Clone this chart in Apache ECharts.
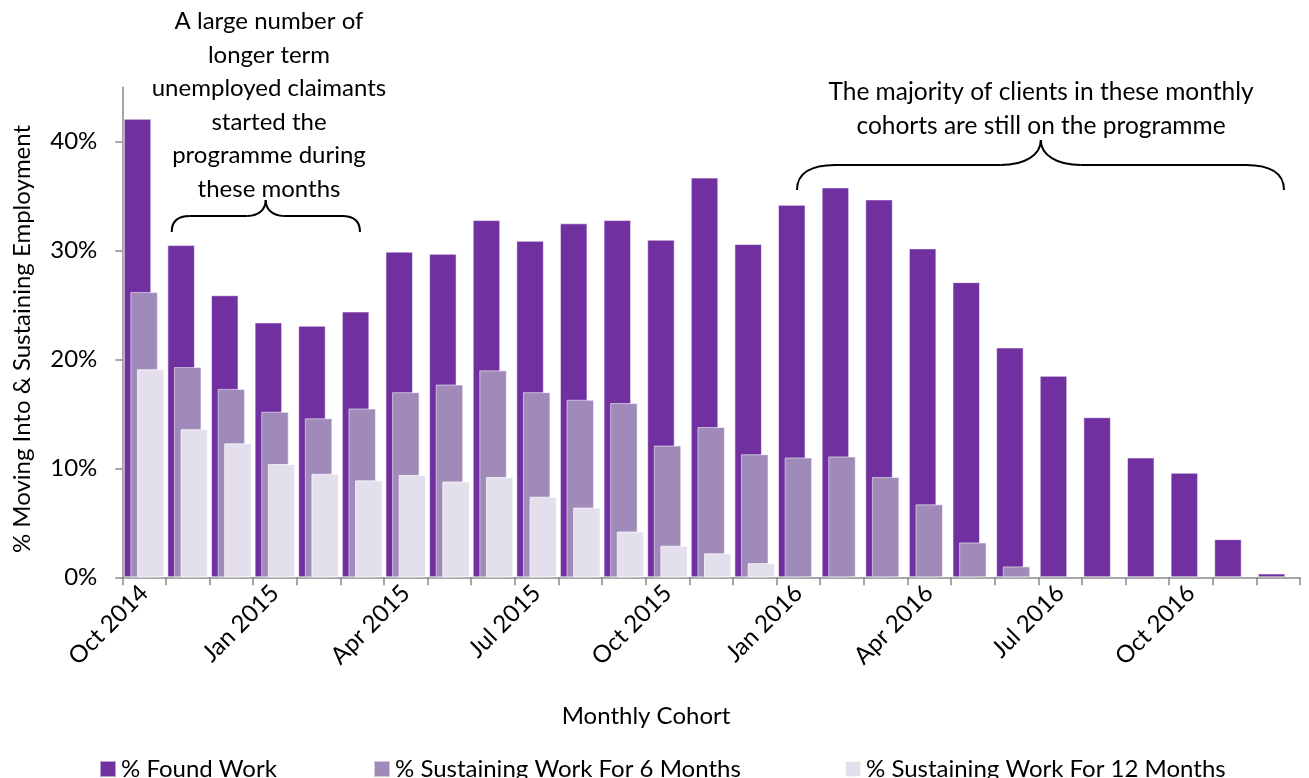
<!DOCTYPE html>
<html>
<head>
<meta charset="utf-8">
<script src="https://cdn.jsdelivr.net/npm/echarts@6/dist/echarts.min.js"></script>
<style>
html,body{margin:0;padding:0;background:#fff;}
#chart{width:1309px;height:778px;}
</style>
</head>
<body>
<div id="chart"></div>
<script>
const categories = ['Oct 2014','Nov 2014','Dec 2014','Jan 2015','Feb 2015','Mar 2015','Apr 2015','May 2015','Jun 2015','Jul 2015','Aug 2015','Sep 2015','Oct 2015','Nov 2015','Dec 2015','Jan 2016','Feb 2016','Mar 2016','Apr 2016','May 2016','Jun 2016','Jul 2016','Aug 2016','Sep 2016','Oct 2016','Nov 2016','Dec 2016'];
const foundWork = [42.1,30.5,25.9,23.4,23.1,24.4,29.9,29.7,32.8,30.9,32.5,32.8,31.0,36.7,30.6,34.2,35.8,34.7,30.2,27.1,21.1,18.5,14.7,11.0,9.6,3.5,0.35];
const sustain6 = [26.2,19.3,17.3,15.2,14.6,15.5,17.0,17.7,19.0,17.0,16.3,16.0,12.1,13.8,11.3,11.0,11.1,9.2,6.7,3.2,1.0,null,null,null,null,null,null];
const sustain12 = [19.1,13.6,12.3,10.4,9.5,8.9,9.4,8.8,9.2,7.4,6.4,4.2,2.9,2.2,1.3,null,null,null,null,null,null,null,null,null,null,null,null];
const yTicks = [0,10,20,30,40];
const seriesNames = ['% Found Work','% Sustaining Work For 6 Months','% Sustaining Work For 12 Months'];
const colors = ['#7030A0','#A08AB9','#E4DFEC'];

const FONT = 'Lato';
const chart = echarts.init(document.getElementById('chart'), null, {renderer:'canvas'});

function legendFor(name, left){
  return {data:[name], left:left, top:757, padding:0, icon:'rect', itemWidth:16, itemHeight:16, itemGap:6,
    textStyle:{fontFamily:FONT, fontSize:24, color:'#000'}, selectedMode:false};
}

const barCommon = {type:'bar', barWidth:27.5, barGap:'-76%', barCategoryGap:'0%'};

// brace: horizontal from xl to xr at y=yh, ends drop to ye, peak at (xm, yp)
function brace(xl, xr, xm, yh, ye, yp, r, rm){
  const st = {fill:'none', stroke:'#000', lineWidth:2};
  return [
    {type:'bezierCurve', shape:{x1:xl, y1:ye, cpx1:xl, cpy1:yh+(ye-yh)*0.3, cpx2:xl+r*0.4, cpy2:yh, x2:xl+r, y2:yh}, style:st},
    {type:'line', shape:{x1:xl+r, y1:yh, x2:xm-rm, y2:yh}, style:st},
    {type:'bezierCurve', shape:{x1:xm-rm, y1:yh, cpx1:xm-rm*0.4, cpy1:yh, cpx2:xm, cpy2:yh-(yh-yp)*0.4, x2:xm, y2:yp}, style:st},
    {type:'bezierCurve', shape:{x1:xm, y1:yp, cpx1:xm, cpy1:yh-(yh-yp)*0.4, cpx2:xm+rm*0.4, cpy2:yh, x2:xm+rm, y2:yh}, style:st},
    {type:'line', shape:{x1:xm+rm, y1:yh, x2:xr-r, y2:yh}, style:st},
    {type:'bezierCurve', shape:{x1:xr-r, y1:yh, cpx1:xr-r*0.4, cpy1:yh, cpx2:xr, cpy2:yh+(ye-yh)*0.3, x2:xr, y2:ye}, style:st}
  ];
}

chart.setOption({
  animation:false,
  color:colors,
  grid:{left:122.3, right:9, top:87.2, bottom:200.7},
  legend:[legendFor(seriesNames[0],99), legendFor(seriesNames[1],373), legendFor(seriesNames[2],844)],
  xAxis:{
    type:'category', data:categories,
    axisLine:{lineStyle:{color:'#898989', width:1.5}},
    axisTick:{show:true, alignWithLabel:false, interval:0, length:8, lineStyle:{color:'#898989', width:1.5}},
    axisLabel:{interval:2, rotate:45, margin:12, fontFamily:FONT, fontSize:24, color:'#000'}
  },
  yAxis:{
    type:'value', min:0, max:45, interval:10,
    splitLine:{show:false},
    axisLine:{show:true, lineStyle:{color:'#898989', width:1.5}},
    axisTick:{show:true, length:7, customValues:yTicks, lineStyle:{color:'#898989', width:1.5}},
    axisLabel:{customValues:yTicks, margin:25, fontFamily:FONT, fontSize:24, color:'#000', formatter:v=>v+'%'}
  },
  series:[
    Object.assign({name:seriesNames[0], data:foundWork, itemStyle:{color:colors[0], borderColor:'rgba(255,255,255,0.55)', borderWidth:1}}, barCommon),
    Object.assign({name:seriesNames[1], data:sustain6, itemStyle:{color:colors[1], borderColor:'rgba(255,255,255,0.55)', borderWidth:1}}, barCommon),
    Object.assign({name:seriesNames[2], data:sustain12, itemStyle:{color:colors[2], borderColor:'rgba(255,255,255,0.7)', borderWidth:1}}, barCommon)
  ],
  graphic:[
    {type:'text', x:22, y:339, rotation:Math.PI/2, style:{text:'% Moving Into & Sustaining Employment', fontFamily:FONT, fontSize:24, fill:'#000', align:'center', verticalAlign:'middle'}},
    {type:'text', x:646, y:716, style:{text:'Monthly Cohort', fontFamily:FONT, fontSize:24, fill:'#000', align:'center', verticalAlign:'middle'}},
    {type:'text', x:269, y:5, style:{text:'A large number of\nlonger term\nunemployed claimants\nstarted the\nprogramme during\nthese months', fontFamily:FONT, fontSize:24, lineHeight:33.5, fill:'#000', align:'center', verticalAlign:'top'}},
    {type:'text', x:1041, y:75, style:{text:'The majority of clients in these monthly\ncohorts are still on the programme', fontFamily:FONT, fontSize:24.5, lineHeight:34, fill:'#000', align:'center', verticalAlign:'top'}}
  ].concat(brace(171.7, 360, 265.7, 216, 232, 200, 18, 18))
   .concat(brace(797, 1284, 1040.8, 165, 190, 140, 38, 40))
});
</script>
</body>
</html>
